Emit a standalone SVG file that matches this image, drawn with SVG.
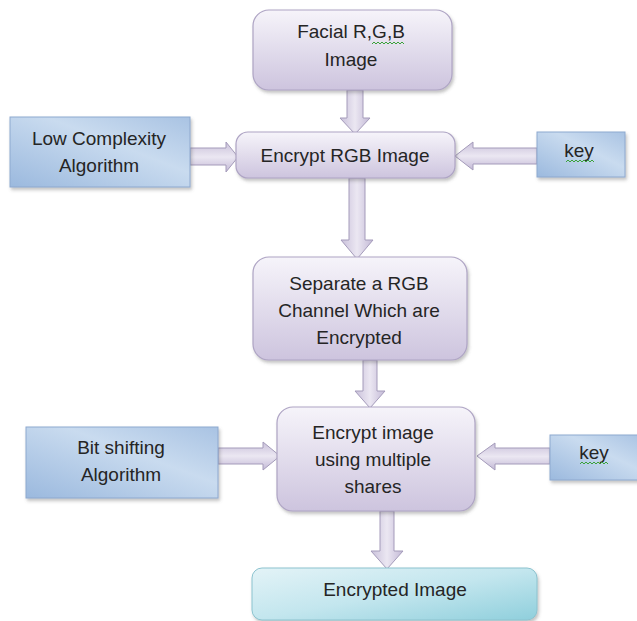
<svg xmlns="http://www.w3.org/2000/svg" width="637" height="621" viewBox="0 0 637 621">
<style>
text{font-family:"Liberation Sans",Arial,sans-serif;font-size:19px;fill:#252525;text-anchor:middle}
.pb{fill:url(#gPurple);stroke:#aea4c4;stroke-width:1.2;filter:url(#sh)}
.bb{fill:url(#gBlue);stroke:#8ea9cf;stroke-width:1;filter:url(#sh)}
.tb{fill:url(#gTeal);stroke:#8cc3cf;stroke-width:1;filter:url(#sh)}
.ar{fill:url(#gArrowV);stroke:#a49bba;stroke-width:1}
.ah{fill:url(#gArrowH);stroke:#a49bba;stroke-width:1}
.sq{fill:none;stroke:#3aa23a;stroke-width:1}
</style>
<defs>
<linearGradient id="gPurple" x1="0" y1="0" x2="0" y2="1">
<stop offset="0" stop-color="#f6f4fa"/><stop offset="1" stop-color="#cdc4de"/>
</linearGradient>
<linearGradient id="gBlue" x1="0" y1="1" x2="1" y2="0">
<stop offset="0" stop-color="#9bb9de"/><stop offset="0.6" stop-color="#c9dbef"/><stop offset="1" stop-color="#a9c3e3"/>
</linearGradient>
<linearGradient id="gTeal" x1="0" y1="0" x2="1" y2="1">
<stop offset="0" stop-color="#e3f3f7"/><stop offset="0.5" stop-color="#c3e6ee"/><stop offset="1" stop-color="#8fcfdc"/>
</linearGradient>
<linearGradient id="gArrowV" x1="0" y1="0" x2="1" y2="0">
<stop offset="0" stop-color="#c9c0da"/><stop offset="0.5" stop-color="#ebe7f2"/><stop offset="1" stop-color="#c3b9d6"/>
</linearGradient>
<linearGradient id="gArrowH" x1="0" y1="0" x2="0" y2="1">
<stop offset="0" stop-color="#c9c0da"/><stop offset="0.5" stop-color="#ebe7f2"/><stop offset="1" stop-color="#c3b9d6"/>
</linearGradient>
<filter id="sh" x="-10%" y="-10%" width="125%" height="135%">
<feDropShadow dx="1.5" dy="2.5" stdDeviation="1.8" flood-color="#555" flood-opacity="0.35"/>
</filter>
</defs>

<g id="connectors">
<polygon class="ar" points="347,90 363,90 363,118 370,118 355,134 340,118 347,118"/>
<polygon class="ar" points="349,178 365,178 365,240 373,240 357,259 341,240 349,240"/>
<polygon class="ar" points="363,360 377,360 377,391 385,391 370,408 355,391 363,391"/>
<polygon class="ar" points="380,511 394,511 394,551 403,551 387,569 371,551 380,551"/>
<polygon class="ah" points="190,148 226,148 226,142 238,157 226,172 226,165 190,165"/>
<polygon class="ah" points="537,148 473,148 473,142 455,156 473,170 473,164 537,164"/>
<polygon class="ah" points="218,448 263,448 263,442 280,456 263,470 263,464 218,464"/>
<polygon class="ah" points="550,448 495,448 495,443 477,456 495,470 495,464 550,464"/>
</g>

<g id="n-facial">
<rect class="pb" x="253" y="10" width="199" height="80" rx="16"/>
<text x="351" y="38">Facial R,G,B</text>
<text x="351" y="66">Image</text>
<path class="sq" d="M372,44 l2,-2 l2,2 l2,-2 l2,2 l2,-2 l2,2 l2,-2 l2,2 l2,-2 l2,2 l2,-2 l2,2 l2,-2 l2,2 l2,-2 l2,2"/>
</g>

<g id="n-lowcomplexity">
<rect class="bb" x="10" y="117" width="180" height="70"/>
<text x="99" y="145">Low Complexity</text>
<text x="99" y="172">Algorithm</text>
</g>

<g id="n-encryptrgb">
<rect class="pb" x="236" y="132" width="219" height="46" rx="12"/>
<text x="345" y="162">Encrypt RGB Image</text>
</g>

<g id="n-key1">
<rect class="bb" x="537" y="132" width="88" height="45"/>
<text x="579" y="157">key</text>
<path class="sq" d="M566,162 l2,-2 l2,2 l2,-2 l2,2 l2,-2 l2,2 l2,-2 l2,2 l2,-2 l2,2 l2,-2 l2,2 l2,-2 l2,2"/>
</g>

<g id="n-separate">
<rect class="pb" x="253" y="257" width="214" height="103" rx="16"/>
<text x="359" y="290">Separate a RGB</text>
<text x="359" y="317">Channel Which are</text>
<text x="359" y="344">Encrypted</text>
</g>

<g id="n-bitshift">
<rect class="bb" x="26" y="427" width="192" height="71"/>
<text x="121" y="454">Bit shifting</text>
<text x="121" y="481">Algorithm</text>
</g>

<g id="n-shares">
<rect class="pb" x="277" y="407" width="198" height="104" rx="16"/>
<text x="373" y="439">Encrypt image</text>
<text x="373" y="466">using multiple</text>
<text x="373" y="493">shares</text>
</g>

<g id="n-key2">
<rect class="bb" x="550" y="435" width="92" height="45"/>
<text x="594" y="459">key</text>
<path class="sq" d="M580,464 l2,-2 l2,2 l2,-2 l2,2 l2,-2 l2,2 l2,-2 l2,2 l2,-2 l2,2 l2,-2 l2,2 l2,-2 l2,2"/>
</g>

<g id="n-encrypted">
<rect class="tb" x="252" y="568" width="285" height="52" rx="10"/>
<text x="395" y="596">Encrypted Image</text>
</g>
</svg>
